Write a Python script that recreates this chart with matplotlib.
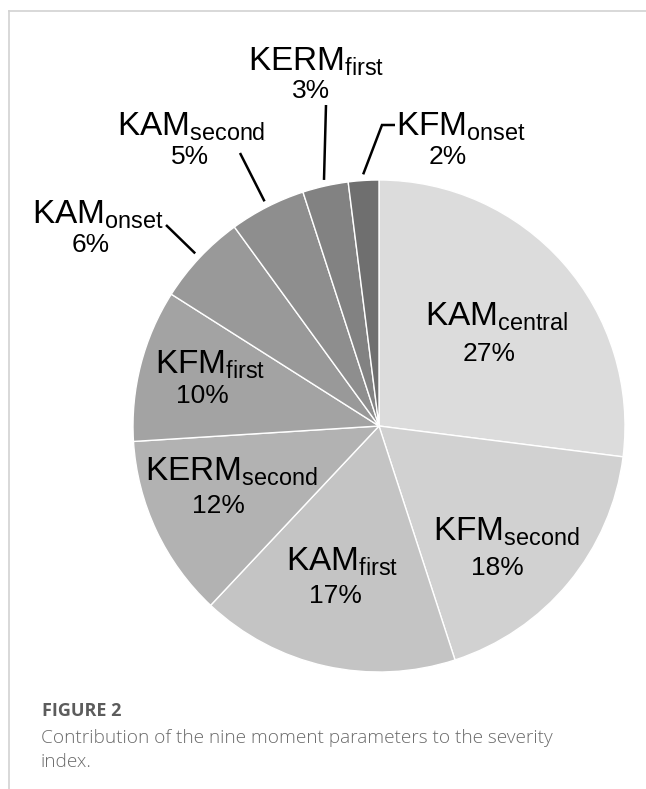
import numpy as np
import matplotlib
matplotlib.use('Agg')
import matplotlib.pyplot as plt

plt.rcParams['font.family'] = ['Liberation Sans', 'DejaVu Sans']
plt.rcParams['mathtext.fontset'] = 'custom'
plt.rcParams['mathtext.rm'] = 'Liberation Sans'

# data
names = ['KAM', 'KFM', 'KAM', 'KERM', 'KFM', 'KAM', 'KAM', 'KERM', 'KFM']
subs = ['central', 'second', 'first', 'second', 'first', 'onset', 'second', 'first', 'onset']
values = [27, 18, 17, 12, 10, 6, 5, 3, 2]
shades = ['#dcdcdc', '#d1d1d1', '#c4c4c4', '#b2b2b2', '#a3a3a3',
          '#999999', '#8e8e8e', '#828282', '#6f6f6f']

W, H = 646, 789
cx, cy, R = 379, 426, 246   # pie centre / radius in image pixels

# label layout (image pixels): name centre x, name baseline y, pct centre x, pct baseline y
label_pos = [(497, 325, 489, 361),
             (506, 540, 497, 575),
             (342, 570, 335, 603),
             (231, 480, 218, 513),
             (210, 373, 202, 403),
             (98, 223, 91, 252),
             (191, 135, 190, 164),
             (316, 70, 311, 98),
             (461, 135, 448, 164)]
# outer end of leader lines for the small outside slices
leaders = {5: [(166, 225)], 6: [(240, 153)], 7: [(326, 105)], 8: [(395, 125), (382, 125)]}


def Y(y):
    return H - y


fig = plt.figure(figsize=(W / 100, H / 100), dpi=100)
ax = fig.add_axes([0, 0, 1, 1])

wedges, _ = ax.pie(values, colors=shades, startangle=90, counterclock=False,
                   radius=R, center=(cx, Y(cy)),
                   wedgeprops=dict(edgecolor='white', linewidth=1))
ax.set_xlim(0, W)
ax.set_ylim(0, H)
ax.set_aspect('equal')
ax.axis('off')

for i, (nm, sb, v) in enumerate(zip(names, subs, values)):
    lx, ly, px, py = label_pos[i]
    ax.text(lx, Y(ly), r'$\mathrm{%s}_{\mathrm{%s}}$' % (nm, sb), ha='center',
            va='baseline', fontsize=24, color='black')
    ax.text(px, Y(py), f'{v}%', ha='center', va='baseline', fontsize=19, color='black')
    if i in leaders:
        w = wedges[i]
        mid = np.deg2rad((w.theta1 + w.theta2) / 2)
        ex = cx + 1.025 * R * np.cos(mid)
        ey = cy - 1.025 * R * np.sin(mid)
        pts = leaders[i] + [(ex, ey)]
        ax.plot([p[0] for p in pts], [Y(p[1]) for p in pts], color='black', lw=1.8,
                solid_capstyle='butt', solid_joinstyle='miter')

# frame
ax.plot([9, W], [Y(11), Y(11)], color='#d2d2d2', lw=1.2, clip_on=False)
ax.plot([9, 9], [Y(11), 0], color='#d2d2d2', lw=1.2, clip_on=False)

# caption
cap_font = ['Open Sans', 'DejaVu Sans']
ax.text(42, Y(716), 'FIGURE 2', fontsize=13, fontweight='bold', color='#5c5c5c',
        family=cap_font, va='baseline')
ax.text(41, Y(743), 'Contribution of the nine moment parameters to the severity',
        fontsize=13.7, fontweight='light', color='#6b6b6b', family=cap_font, va='baseline')
ax.text(41, Y(767), 'index.', fontsize=13.7, fontweight='light', color='#6b6b6b',
        family=cap_font, va='baseline')

fig.savefig('out.png', dpi=100)
